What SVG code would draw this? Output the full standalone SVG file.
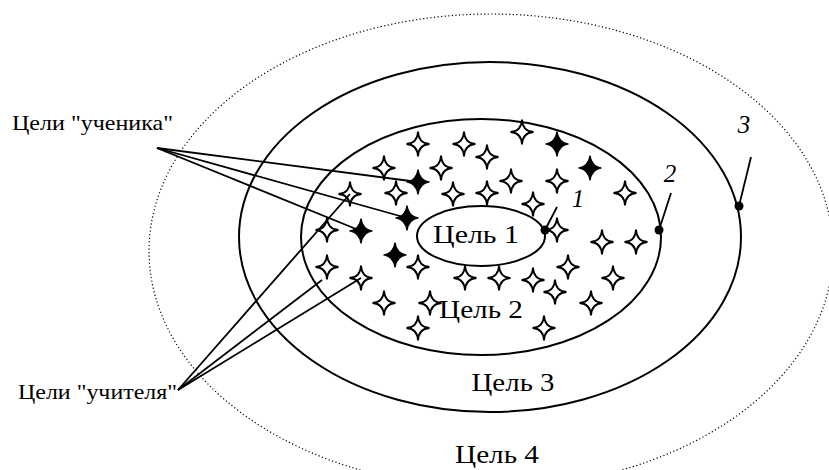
<svg xmlns="http://www.w3.org/2000/svg" width="829" height="470" viewBox="0 0 829 470">
<style>
.ring{fill:none;stroke:#000;stroke-width:2}
.dotted{fill:none;stroke:#000;stroke-width:1.2;stroke-dasharray:1.2 2.4}
.t{font-family:"Liberation Serif","Times New Roman",serif;fill:#000}
.goal{font-size:26px;text-anchor:middle}
.lab{font-size:21px}
.num{font-size:25px;font-style:italic;text-anchor:middle}
.ln{stroke:#000;stroke-width:1.8;fill:none}
.hs{fill:#fff;stroke:#000;stroke-width:1.8;stroke-linejoin:miter}
.fs{fill:#000;stroke:#000;stroke-width:1.2}
.dot{fill:#000}
</style>
<defs>
<path id="hstar" class="hs" d="M0,-12.5 Q0.6,-0.6 11.5,0 Q0.6,0.6 0,12.5 Q-0.6,0.6 -11.5,0 Q-0.6,-0.6 0,-12.5Z"/>
<path id="fstar" class="fs" d="M0,-12.5 Q1.6,-1.6 11.5,0 Q1.6,1.6 0,12.5 Q-1.6,1.6 -11.5,0 Q-1.6,-1.6 0,-12.5Z"/>
</defs>
<rect width="829" height="470" fill="#fff"/>

<g id="goal4">
<ellipse class="dotted" cx="491" cy="251" rx="342" ry="237"/>
<text class="t goal" x="497" y="463" textLength="84" lengthAdjust="spacingAndGlyphs">Цель 4</text>
</g>
<g id="goal3">
<ellipse class="ring" cx="490" cy="237" rx="251" ry="175"/>
<text class="t goal" x="513" y="391" textLength="83" lengthAdjust="spacingAndGlyphs">Цель 3</text>
</g>
<g id="goal2">
<ellipse class="ring" cx="481" cy="237" rx="180" ry="118"/>
</g>
<g id="goal1">
<ellipse class="ring" cx="481" cy="236" rx="64" ry="30"/>
<text class="t goal" x="476" y="243" textLength="86" lengthAdjust="spacingAndGlyphs">Цель 1</text>
</g>

<g id="stars">
<use href="#hstar" x="418" y="144"/>
<use href="#hstar" x="384" y="168"/>
<use href="#fstar" x="418" y="182"/>
<use href="#hstar" x="396" y="193"/>
<use href="#hstar" x="350" y="194"/>
<use href="#fstar" x="407" y="218"/>
<use href="#hstar" x="327" y="230"/>
<use href="#fstar" x="361" y="231"/>
<use href="#hstar" x="522" y="132"/>
<use href="#hstar" x="464" y="144"/>
<use href="#hstar" x="487" y="157"/>
<use href="#hstar" x="441" y="168"/>
<use href="#hstar" x="511" y="181"/>
<use href="#hstar" x="453" y="194"/>
<use href="#hstar" x="487" y="193"/>
<use href="#hstar" x="533" y="204"/>
<use href="#fstar" x="557" y="144"/>
<use href="#fstar" x="590" y="168"/>
<use href="#hstar" x="557" y="181"/>
<use href="#hstar" x="625" y="193"/>
<use href="#hstar" x="557" y="230"/>
<use href="#hstar" x="602" y="242"/>
<use href="#hstar" x="636" y="242"/>
<use href="#fstar" x="395" y="255"/>
<use href="#hstar" x="327" y="267"/>
<use href="#hstar" x="361" y="278"/>
<use href="#hstar" x="418" y="267"/>
<use href="#hstar" x="384" y="303"/>
<use href="#hstar" x="418" y="328"/>
<use href="#hstar" x="430" y="303"/>
<use href="#hstar" x="465" y="278"/>
<use href="#hstar" x="499" y="278"/>
<use href="#hstar" x="533" y="280"/>
<use href="#hstar" x="568" y="267"/>
<use href="#hstar" x="555" y="292"/>
<use href="#hstar" x="613" y="278"/>
<use href="#hstar" x="591" y="303"/>
<use href="#hstar" x="544" y="328"/>
</g>

<g id="goal2-label">
<text class="t goal" x="481" y="318" textLength="84" lengthAdjust="spacingAndGlyphs">Цель 2</text>
</g>

<g id="connectors">
<line class="ln" x1="157" y1="148" x2="418" y2="182"/>
<line class="ln" x1="157" y1="148" x2="407" y2="218"/>
<line class="ln" x1="157" y1="148" x2="361" y2="231"/>
<line class="ln" x1="178" y1="390" x2="350" y2="194"/>
<line class="ln" x1="178" y1="390" x2="322" y2="280"/>
<line class="ln" x1="178" y1="390" x2="361" y2="278"/>
<line class="ln" x1="545" y1="230" x2="557" y2="207"/>
<line class="ln" x1="659" y1="230" x2="671" y2="193"/>
<line class="ln" x1="739" y1="206" x2="751" y2="157"/>
<circle class="dot" cx="545" cy="230" r="4.5"/>
<circle class="dot" cx="659" cy="230" r="4.5"/>
<circle class="dot" cx="739" cy="206" r="4.5"/>
</g>

<g id="labels">
<text class="t lab" x="12" y="130" textLength="161" lengthAdjust="spacingAndGlyphs">Цели "ученика"</text>
<text class="t lab" x="18" y="399" textLength="159" lengthAdjust="spacingAndGlyphs">Цели "учителя"</text>
<text class="t num" x="578" y="207">1</text>
<text class="t num" x="670" y="182">2</text>
<text class="t num" x="744" y="133">3</text>
</g>
</svg>
